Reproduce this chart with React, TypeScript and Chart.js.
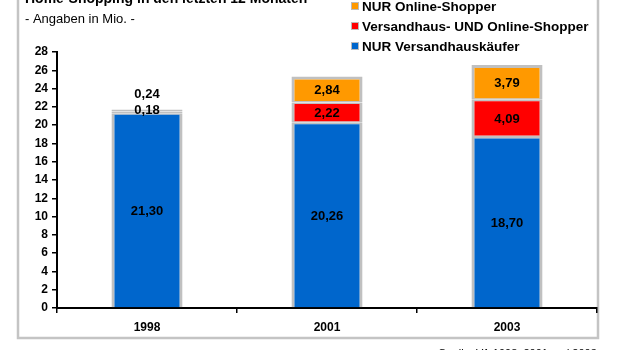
import React, { useEffect, useRef } from "react";
import { Chart, registerables } from "chart.js";

Chart.register(...registerables);

const categories = ["1998", "2001", "2003"];
const nurVersand = [21.3, 20.26, 18.7];
const versandUndOnline = [0.18, 2.22, 4.09];
const nurOnline = [0.24, 2.84, 3.79];
const yTicks = [0, 2, 4, 6, 8, 10, 12, 14, 16, 18, 20, 22, 24, 26, 28];

const seriesLabels = ["NUR Versandhauskäufer", "Versandhaus- UND Online-Shopper", "NUR Online-Shopper"];
const seriesColors = ["#0066CC", "#FF0000", "#FF9900"];

const FONT = "Arial, 'Liberation Sans', sans-serif";
const fmt = (v: number) => v.toFixed(2).replace(".", ",");

const decorPlugin = {
  id: "decor",
  beforeDraw(chart: any) {
    const ctx = chart.ctx;
    ctx.save();
    ctx.fillStyle = "#ffffff";
    ctx.fillRect(0, 0, chart.width, chart.height);
    // frame
    ctx.strokeStyle = "#C4C4C4";
    ctx.lineWidth = 2.5;
    ctx.beginPath();
    ctx.moveTo(18, -5);
    ctx.lineTo(18, 338);
    ctx.lineTo(598, 338);
    ctx.lineTo(598, -5);
    ctx.stroke();
    // title
    ctx.fillStyle = "#000";
    ctx.textAlign = "left";
    ctx.textBaseline = "alphabetic";
    ctx.font = `bold 14px ${FONT}`;
    ctx.fillText("Home-Shopping in den letzten 12 Monaten", 25, 3);
    ctx.font = `13px ${FONT}`;
    ctx.fillText("- Angaben in Mio. -", 25, 23);
    // source
    ctx.font = `11px ${FONT}`;
    ctx.fillText("Quelle: VA 1998, 2001 und 2003", 438, 357);
    // legend (top-down: reversed dataset order)
    const ds = chart.data.datasets;
    const rows = [ds[2], ds[1], ds[0]];
    ctx.font = `bold 13.5px ${FONT}`;
    ctx.textBaseline = "middle";
    rows.forEach((d: any, i: number) => {
      const cy = 6 + i * 20;
      ctx.fillStyle = "#BBBBBB";
      ctx.fillRect(351, cy - 4, 8, 8);
      ctx.fillStyle = d.backgroundColor;
      ctx.fillRect(352, cy - 3, 6, 6);
      ctx.fillStyle = "#000";
      ctx.fillText(d.label, 362, cy + 1);
    });
    ctx.restore();
  },
  afterDatasetsDraw(chart: any) {
    const ctx = chart.ctx;
    ctx.save();
    ctx.font = `bold 13px ${FONT}`;
    ctx.fillStyle = "#000";
    ctx.textAlign = "center";
    ctx.textBaseline = "middle";
    const n = chart.data.labels.length;
    const nds = chart.data.datasets.length;
    for (let i = 0; i < n; i++) {
      let stackTop = Infinity;
      for (let d = 0; d < nds; d++) {
        const el = chart.getDatasetMeta(d).data[i];
        stackTop = Math.min(stackTop, el.y);
      }
      let small = 0;
      for (let d = 0; d < nds; d++) {
        const el = chart.getDatasetMeta(d).data[i];
        const v = chart.data.datasets[d].data[i];
        const h = Math.abs(el.base - el.y);
        if (h < 12) {
          ctx.fillText(fmt(v), el.x, stackTop + 1 - small * 16);
          small++;
        } else {
          ctx.fillText(fmt(v), el.x, (el.y + el.base) / 2 + 1);
        }
      }
    }
    ctx.restore();
  },
};

export default function App() {
  const ref = useRef<HTMLCanvasElement>(null);
  useEffect(() => {
    document.body.style.margin = "0";
    Chart.defaults.font.family = FONT;
    const common = { borderColor: "#C0C0C0", borderSkipped: false as any, categoryPercentage: 1, barPercentage: 0.395 };
    const chart = new Chart(ref.current!, {
      type: "bar",
      data: {
        labels: categories,
        datasets: [
          { ...common, label: seriesLabels[0], data: nurVersand, backgroundColor: seriesColors[0], borderWidth: { left: 3, right: 3, top: 1.5, bottom: 0 } as any },
          { ...common, label: seriesLabels[1], data: versandUndOnline, backgroundColor: seriesColors[1], borderWidth: { left: 3, right: 3, top: 1.5, bottom: 1.5 } as any },
          { ...common, label: seriesLabels[2], data: nurOnline, backgroundColor: seriesColors[2], borderWidth: { left: 3, right: 3, top: 3, bottom: 1.5 } as any },
        ],
      },
      options: {
        responsive: false,
        animation: false,
        layout: { padding: { left: 0, right: 23, top: 52, bottom: 0 } },
        plugins: { legend: { display: false }, tooltip: { enabled: false }, title: { display: false } },
        scales: {
          x: {
            stacked: true,
            afterFit: (s: any) => { s.height = 42; },
            grid: { offset: true, drawOnChartArea: false, tickLength: 5, color: "#000", lineWidth: 1.5 },
            border: { color: "#000", width: 2 },
            ticks: { color: "#000", font: { size: 12, weight: "bold" }, padding: 7 },
          },
          y: {
            stacked: true,
            min: 0,
            max: 28,
            afterFit: (s: any) => { s.width = 57; },
            afterBuildTicks: (s: any) => { s.ticks = yTicks.map((v) => ({ value: v })); },
            grid: { drawOnChartArea: false, tickLength: 5, color: "#000", lineWidth: 1.5 },
            border: { color: "#000", width: 2 },
            ticks: { color: "#000", font: { size: 12, weight: "bold" }, padding: 4 },
          },
        },
      },
      plugins: [decorPlugin],
    });
    return () => chart.destroy();
  }, []);
  return (
    <div style={{ width: 620, height: 350, position: "relative" }}>
      <canvas ref={ref} width={620} height={350} style={{ display: "block" }} />
    </div>
  );
}
